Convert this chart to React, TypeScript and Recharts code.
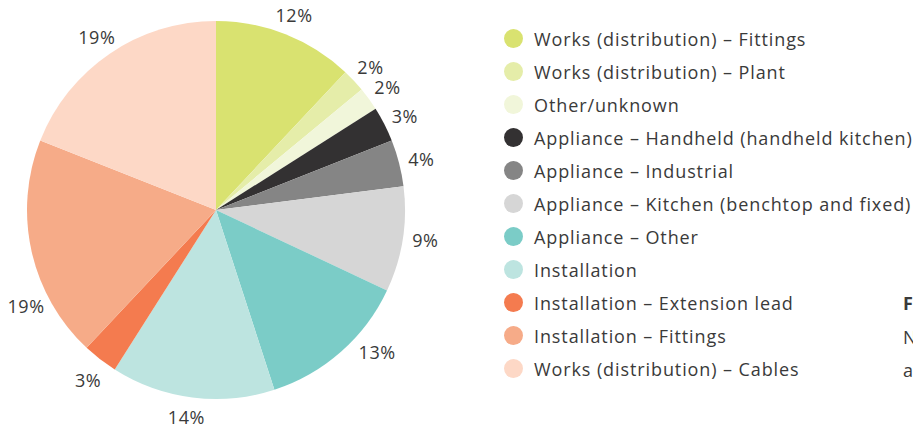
import React from "react";
import { PieChart, Pie, Cell } from "recharts";

const categories = [
  "Works (distribution) – Fittings",
  "Works (distribution) – Plant",
  "Other/unknown",
  "Appliance – Handheld (handheld kitchen)",
  "Appliance – Industrial",
  "Appliance – Kitchen (benchtop and fixed)",
  "Appliance – Other",
  "Installation",
  "Installation – Extension lead",
  "Installation – Fittings",
  "Works (distribution) – Cables",
];
const shares = [12, 2, 2, 3, 4, 9, 13, 14, 3, 19, 19];
const colors = [
  "#d9e270",
  "#e5eda9",
  "#f1f6da",
  "#333132",
  "#858585",
  "#d6d6d6",
  "#7bccc7",
  "#bde4e0",
  "#f47b4f",
  "#f6ab88",
  "#fdd8c6",
];

const data = categories.map((name, i) => ({ name, value: shares[i] }));

// label placement tweaks (layout only), keyed by slice index
const LABEL_NUDGE: Record<number, [number, number]> = {
  5: [0, -5],
  6: [21, -19],
  7: [-3, -5],
  8: [2, 0],
  9: [17, 48],
};

const FONT = "'Open Sans', 'DejaVu Sans', sans-serif";
const TEXT = "#3a3a3a";
const RAD = Math.PI / 180;

const renderLabel = (props: any) => {
  const { cx, cy, midAngle, outerRadius, value, index } = props;
  const r = outerRadius + 23;
  const [dx, dy] = LABEL_NUDGE[index] || [0, 0];
  const x = cx + r * Math.cos(-midAngle * RAD) + dx;
  const y = cy + r * Math.sin(-midAngle * RAD) + 2 + dy;
  return (
    <text
      x={x}
      y={y}
      fill={TEXT}
      fontSize={18}
      letterSpacing={0.6}
      fontFamily={FONT}
      textAnchor="middle"
      dominantBaseline="central"
    >
      {`${value}%`}
    </text>
  );
};

export default function App() {
  return (
    <div style={{ position: "absolute", left: 0, top: 0, width: 913, height: 432, overflow: "hidden", background: "#fff" }}>
      <PieChart width={913} height={432} margin={{ top: 0, right: 0, bottom: 0, left: 0 }}>
        <Pie
          data={data}
          dataKey="value"
          nameKey="name"
          cx={216}
          cy={210}
          outerRadius={189}
          startAngle={90}
          endAngle={-270}
          stroke="none"
          label={renderLabel}
          labelLine={false}
          isAnimationActive={false}
        >
          {data.map((d, i) => (
            <Cell key={d.name} fill={colors[i]} />
          ))}
        </Pie>
        <text x={903} y={303} fontFamily={FONT} fontSize={18} fontWeight="bold" fill={TEXT} dominantBaseline="central">F</text>
        <text x={903} y={337} fontFamily={FONT} fontSize={18} fill={TEXT} dominantBaseline="central">N</text>
        <text x={903} y={370} fontFamily={FONT} fontSize={18} fill={TEXT} dominantBaseline="central">a</text>
      </PieChart>
      <div
        style={{
          position: "absolute",
          left: 504,
          top: 22,
          fontFamily: FONT,
          fontSize: 18,
          letterSpacing: 0.9,
          color: TEXT,
        }}
      >
        {categories.map((c, i) => (
          <div
            key={c}
            style={{ display: "flex", alignItems: "center", height: 33, whiteSpace: "nowrap" }}
          >
            <span
              style={{
                display: "inline-block",
                width: 19,
                height: 19,
                borderRadius: "50%",
                background: colors[i],
                marginRight: 11,
                flex: "none",
              }}
            />
            <span>{c}</span>
          </div>
        ))}
      </div>
    </div>
  );
}
